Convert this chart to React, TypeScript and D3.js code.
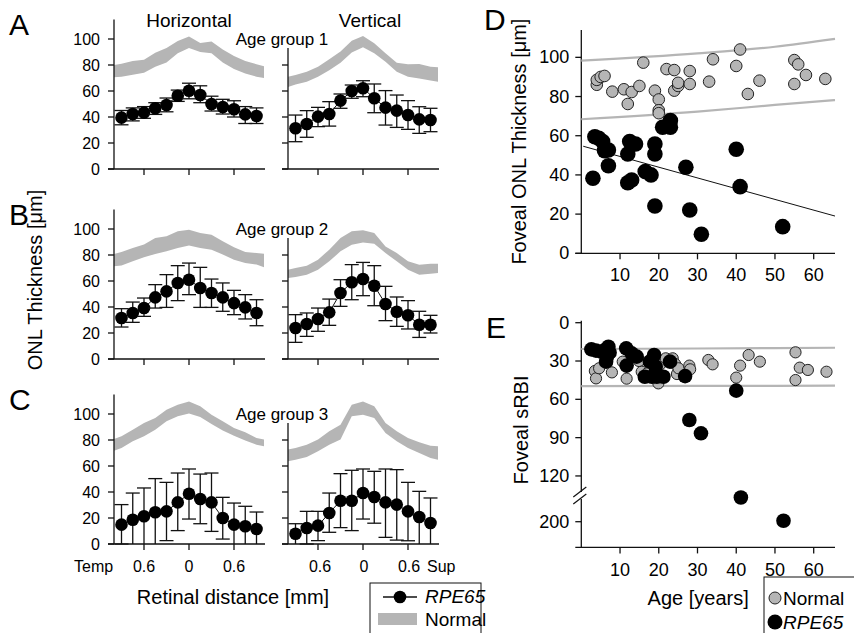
import React from "react";
import * as d3 from "d3";

const FONT = "'Liberation Sans', Arial, Helvetica, sans-serif";
const BAND = "#b5b5b5";

// retinal positions (mm) of the RPE65 means, and where the normal band is sampled
const positions = [-0.9, -0.75, -0.6, -0.45, -0.3, -0.15, 0, 0.15, 0.3, 0.45, 0.6, 0.75, 0.9];
const bandPositions = [-1, -0.9, -0.75, -0.6, -0.45, -0.3, -0.15, 0, 0.15, 0.3, 0.45, 0.6, 0.75, 0.9, 1];
const xTicks = [-0.6, 0, 0.6];
const yTicks = [0, 20, 40, 60, 80, 100];

// age group 1
const hor1Mean = [39.5, 42.3, 43.4, 46.7, 49.2, 56.4, 60.2, 56.9, 50, 47.7, 46, 42, 40.8];
const hor1Hi = [45, 47, 48, 51, 54.6, 60.7, 66, 64, 56, 53.6, 52.5, 48, 47];
const hor1Lo = [34, 37, 39, 42, 44, 52, 54, 51, 44.6, 42.3, 40, 35, 35];
const hor1BandHi = [80, 81, 83, 84, 89.5, 93, 98.5, 102, 97, 98, 92, 87, 83, 80.6, 79];
const hor1BandLo = [70.5, 71, 72.5, 74, 78.6, 82, 89, 93, 90, 89, 82, 77, 73.5, 71, 70];
const ver1Mean = [31.3, 34.6, 40.3, 42.3, 52.6, 60, 62.1, 54.4, 47.2, 44.9, 41.5, 38.2, 37.7];
const ver1Hi = [41.5, 44.9, 47.4, 51.8, 57.7, 64.6, 67.9, 65.4, 60.3, 56.9, 52.6, 47.9, 46.7];
const ver1Lo = [21, 24.4, 32.6, 33, 46.7, 54.4, 55.6, 43.3, 33.8, 32, 30.5, 27.4, 28.7];
const ver1BandHi = [71, 72.3, 74.9, 78.7, 84.4, 90.3, 98.7, 102.3, 96.7, 89, 81.8, 80.5, 80.8, 78.7, 78.2];
const ver1BandLo = [63, 65, 67.2, 71, 76, 81.8, 89.7, 93.6, 89, 82.5, 74.9, 71, 69.7, 68, 67.2];

// age group 2
const hor2Mean = [31.5, 35.4, 39.2, 47.4, 52, 58.5, 61, 54.6, 50.8, 47.4, 43, 39.7, 35.4];
const hor2Hi = [38.7, 43.8, 46.9, 57.2, 64.9, 71.8, 73.8, 70.5, 61.5, 58.5, 52.8, 49.5, 45.6];
const hor2Lo = [24.6, 28.2, 32.8, 39.2, 39.7, 44.9, 49.5, 39.7, 39.7, 36.7, 34.1, 30.8, 25.6];
const hor2BandHi = [80.8, 82.3, 85.4, 88, 93, 94.4, 98.2, 99.5, 96.9, 95.6, 90.5, 85.9, 82.3, 81.5, 81];
const hor2BandLo = [71.3, 72, 75.1, 78.2, 80.8, 82.8, 85.4, 87.4, 85.4, 84.1, 80.3, 76.4, 73.8, 72.6, 70.5];
const ver2Mean = [23.8, 26.9, 30.8, 35.9, 50.8, 59, 61.5, 56.4, 42.3, 36.4, 33.6, 26.4, 26.4];
const ver2Hi = [34.1, 35.4, 39.2, 46.1, 61, 72.6, 74.3, 71.8, 55.9, 47.7, 44.9, 36.7, 33.6];
const ver2Lo = [12.8, 17.4, 21.3, 25.9, 40.5, 45.6, 48.7, 41, 29.5, 25.1, 23.1, 16.6, 20];
const ver2BandHi = [68.7, 70, 71.8, 76.4, 84.1, 93, 98.2, 99, 96.9, 86.6, 81.5, 75.1, 72.5, 73.3, 73.3];
const ver2BandLo = [62.3, 63, 64.9, 68.7, 75.1, 82.8, 87.9, 89.7, 88.7, 81.5, 75.1, 68.7, 64.9, 65.6, 66.1];

// age group 3 (negative lower = whisker runs past 0)
const hor3Mean = [14.9, 18.7, 21.3, 24.4, 25.1, 32, 38.7, 34.6, 32, 20, 14.9, 13.6, 11.5];
const hor3Hi = [30.3, 39.2, 43.1, 50.3, 47.4, 54.6, 57.7, 53.8, 54.6, 35.9, 31.5, 29, 24.6];
const hor3Lo = [0, -5, -5, -5, 2.6, 10.3, 19.2, 15.6, 9.7, 3.8, -5, -5, -5];
const hor3BandHi = [80.8, 82.8, 87.9, 93, 96.9, 103.3, 107.2, 109.7, 105.9, 99.5, 94.4, 89.2, 85.9, 81.5, 80.3];
const hor3BandLo = [71.8, 73.8, 79, 82.8, 87.9, 94.4, 98.2, 100.3, 97.7, 92.3, 87.4, 83.3, 79.7, 76.4, 75.1];
const ver3Mean = [7.9, 12.3, 14.1, 23.8, 33.3, 33.3, 39.2, 36.2, 32, 30.3, 25.1, 20.8, 16.2];
const ver3Hi = [15.6, 25.1, 25.1, 39.2, 54.1, 56.7, 57.7, 55.9, 57.7, 57.2, 47.4, 40.5, 35.4];
const ver3Lo = [-5, 0, 2.6, 9, 12.6, 10.3, 19.2, 16, 5.1, 3, 2.5, -5, -5];
const ver3BandHi = [72.6, 73.8, 76.4, 80.3, 86.7, 91.8, 107.2, 109.7, 105.9, 93, 86.7, 81.5, 78.2, 75.6, 75.1];
const ver3BandLo = [63.6, 64.9, 66.9, 71.3, 76.4, 80.3, 98.2, 99.5, 96.9, 85.4, 79, 73.8, 70, 66.2, 64.9];

// panel D: foveal ONL thickness vs age
const normalAgeD = [4, 4, 5, 6, 8, 11, 12, 13, 15, 16, 19, 20, 20, 20, 22, 24, 24, 25, 25, 28, 28, 33, 34, 40, 41, 43, 46, 55, 56, 55, 58, 63];
const normalOnlD = [86, 88.5, 90, 90.5, 82.5, 83.7, 76.2, 82.3, 85.4, 97.3, 83, 78.5, 73, 71.5, 94, 93.5, 83, 85.4, 87, 93, 86.4, 87.6, 99, 95.6, 104, 81.3, 88.1, 98.6, 96.4, 86.4, 91, 89];
const rpeAgeD = [3, 3.5, 4.5, 5.5, 6, 7, 7, 12, 12, 13, 12.5, 14, 16.5, 18, 19, 19, 19, 21, 23, 23, 27, 28, 31, 40, 41, 52];
const rpeOnlD = [38.3, 59.5, 58.7, 57, 52.4, 52.7, 44.7, 50.7, 36, 37.4, 57, 55.8, 41.7, 40, 55.8, 50.7, 24.1, 64.3, 67.7, 64.3, 43.9, 22.1, 9.7, 53.1, 34, 13.6];
const limitAges = [0, 30, 50, 65.5];
const onlUpper = [98.3, 102, 105.4, 109.4];
const onlLower = [68.4, 72.3, 75.7, 78.2];
const fitAges = [0.5, 65.5];
const rpeFit = [54.9, -0.548]; // intercept, slope

// panel E: foveal sRBI vs age
const normalAgeE = [3.5, 3.8, 4.6, 7.9, 10.7, 11.7, 14.9, 15.6, 17, 18.8, 19.9, 20.4, 21.8, 23.6, 24.2, 24.7, 25.1, 27.9, 28.1, 32.8, 33.9, 40, 41, 43.2, 46.1, 55.3, 55.3, 56.4, 58.5, 63.3];
const normalSrbiE = [37.8, 43.6, 35.7, 38.9, 30.5, 43.8, 30, 38.4, 39.7, 42.8, 47.5, 32.6, 27.9, 27.9, 32.3, 40.2, 35.7, 33.6, 36.5, 29.2, 32.6, 43, 33.6, 25.3, 30.5, 23.2, 44.9, 35.2, 37, 38.4];
const rpeAgeE = [2.6, 3.8, 5.1, 6.1, 7, 6.4, 6.6, 7.3, 11.6, 11.7, 13, 14.3, 16.4, 17.7, 18.2, 18.8, 19.2, 19.5, 21.2, 22.9, 26.8, 27.9, 30.9, 40, 41.2, 52.2];
const rpeSrbiE = [20.9, 21.9, 22.7, 21.4, 18.8, 30.5, 26.6, 23.5, 20.1, 33.6, 24, 26.6, 42.3, 30.5, 42.3, 25.3, 34.4, 42.3, 42.3, 30.5, 41.8, 76.2, 86.6, 53.2, 151, 198];
const srbiUpper = [20.6, 20.2, 19.9, 19.6];
const srbiLower = [49.6, 49.5, 49.4, 49.3];
const srbiTicks = [0, 30, 60, 90, 120, 200];
const ageTicks = [10, 20, 30, 40, 50, 60];

function LinePanel(props: any) {
  const { left, zeroY, axisTop, mean, hi, lo, bandHi, bandLo, labels } = props;
  const x = d3.scaleLinear().domain([-1, 1]).range([left, left + 150]);
  const y = d3.scaleLinear().domain([0, 115]).range([zeroY, zeroY - 149.5]);
  const area = d3
    .area<number>()
    .x((_, i) => x(bandPositions[i]))
    .y0((_, i) => y(bandLo[i]))
    .y1((d) => y(d));
  const line = d3
    .line<number>()
    .x((_, i) => x(positions[i]))
    .y((d) => y(d));
  const ax = x(-1);
  return (
    <g>
      <path d={area(bandHi) || ""} fill={BAND} />
      <line x1={ax} x2={ax} y1={y(0)} y2={y(axisTop)} stroke="#111" strokeWidth={1.3} />
      <line x1={ax - 6} x2={x(1) + 1} y1={y(0)} y2={y(0)} stroke="#111" strokeWidth={1.3} />
      {yTicks
        .filter((t) => t <= axisTop)
        .map((t) => (
          <g key={t}>
            <line x1={ax - 6} x2={ax} y1={y(t)} y2={y(t)} stroke="#111" strokeWidth={1.3} />
            {labels && (
              <text x={ax - 14} y={y(t) + 5.5} textAnchor="end" fontSize={16}>
                {t}
              </text>
            )}
          </g>
        ))}
      {xTicks.map((t) => (
        <line key={t} x1={x(t)} x2={x(t)} y1={y(0)} y2={y(0) + 6} stroke="#111" strokeWidth={1.3} />
      ))}
      <path d={line(mean) || ""} fill="none" stroke="#111" strokeWidth={1} />
      {mean.map((m: number, i: number) => {
        const cx = x(positions[i]);
        const bottom = Math.max(lo[i], 0);
        return (
          <g key={i} stroke="#111" strokeWidth={1.3}>
            <line x1={cx} x2={cx} y1={y(hi[i])} y2={y(bottom)} />
            <line x1={cx - 7} x2={cx + 7} y1={y(hi[i])} y2={y(hi[i])} />
            {lo[i] >= 0 && <line x1={cx - 7} x2={cx + 7} y1={y(lo[i])} y2={y(lo[i])} />}
            <circle cx={cx} cy={y(m)} r={6.3} fill="#000" stroke="none" />
          </g>
        );
      })}
    </g>
  );
}

const rows = [
  { zeroY: 169, group: "Age group 1", letter: "A", hor: [hor1Mean, hor1Hi, hor1Lo, hor1BandHi, hor1BandLo], ver: [ver1Mean, ver1Hi, ver1Lo, ver1BandHi, ver1BandLo] },
  { zeroY: 359, group: "Age group 2", letter: "B", hor: [hor2Mean, hor2Hi, hor2Lo, hor2BandHi, hor2BandLo], ver: [ver2Mean, ver2Hi, ver2Lo, ver2BandHi, ver2BandLo] },
  { zeroY: 544, group: "Age group 3", letter: "C", hor: [hor3Mean, hor3Hi, hor3Lo, hor3BandHi, hor3BandLo], ver: [ver3Mean, ver3Hi, ver3Lo, ver3BandHi, ver3BandLo] },
];

function PanelD() {
  const x = d3.scaleLinear().domain([0, 65.5]).range([581.3, 835]);
  const y = d3.scaleLinear().domain([0, 114]).range([253.3, 29.9]);
  const limit = d3
    .line<number>()
    .x((_, i) => x(limitAges[i]))
    .y((d) => y(d))
    .curve(d3.curveMonotoneX);
  return (
    <g>
      <line x1={x(0)} x2={x(0)} y1={y(0)} y2={y(114)} stroke="#111" strokeWidth={1.3} />
      <line x1={x(0) - 6} x2={x(65.5)} y1={y(0)} y2={y(0)} stroke="#111" strokeWidth={1.3} />
      {yTicks.map((t) => (
        <g key={t}>
          <line x1={x(0) - 6} x2={x(0)} y1={y(t)} y2={y(t)} stroke="#111" strokeWidth={1.3} />
          <text x={x(0) - 12} y={y(t) + 6} textAnchor="end" fontSize={18}>
            {t}
          </text>
        </g>
      ))}
      {ageTicks.map((t) => (
        <g key={t}>
          <line x1={x(t)} x2={x(t)} y1={y(0)} y2={y(0) + 6} stroke="#111" strokeWidth={1.3} />
          <text x={x(t)} y={y(0) + 28} textAnchor="middle" fontSize={18}>
            {t}
          </text>
        </g>
      ))}
      <path d={limit(onlUpper) || ""} fill="none" stroke={BAND} strokeWidth={2.2} />
      <path d={limit(onlLower) || ""} fill="none" stroke={BAND} strokeWidth={2.2} />
      <line
        x1={x(fitAges[0])}
        x2={x(fitAges[1])}
        y1={y(rpeFit[0] + rpeFit[1] * fitAges[0])}
        y2={y(rpeFit[0] + rpeFit[1] * fitAges[1])}
        stroke="#111"
        strokeWidth={1}
      />
      {normalAgeD.map((a, i) => (
        <circle key={"n" + i} cx={x(a)} cy={y(normalOnlD[i])} r={5.8} fill={BAND} stroke="#222" strokeWidth={1} />
      ))}
      {rpeAgeD.map((a, i) => (
        <circle key={"r" + i} cx={x(a)} cy={y(rpeOnlD[i])} r={7.8} fill="#000" />
      ))}
      <text transform={`translate(526,${y(57)}) rotate(-90)`} textAnchor="middle" fontSize={20}>
        Foveal ONL Thickness [μm]
      </text>
    </g>
  );
}

function PanelE() {
  const x = d3.scaleLinear().domain([0, 65.5]).range([581.3, 835]);
  // broken axis: linear to 135, then a compressed segment above the break
  const y = d3.scaleLinear().domain([0, 135, 150, 252]).range([322.7, 495.1, 497, 547.4]);
  const limit = d3
    .line<number>()
    .x((_, i) => x(limitAges[i]))
    .y((d) => y(d));
  const ax = x(0);
  const by = y(142);
  return (
    <g>
      <line x1={ax} x2={ax} y1={y(0) - 2} y2={y(252)} stroke="#111" strokeWidth={1.3} />
      <rect x={ax - 3} y={by - 4} width={6} height={7} fill="#fff" />
      <line x1={ax - 8} x2={ax + 5} y1={by + 1} y2={by - 9} stroke="#111" strokeWidth={1.2} />
      <line x1={ax - 8} x2={ax + 5} y1={by + 8} y2={by - 2} stroke="#111" strokeWidth={1.2} />
      <line x1={ax - 6} x2={x(65.5)} y1={y(252)} y2={y(252)} stroke="#111" strokeWidth={1.3} />
      {srbiTicks.map((t) => (
        <g key={t}>
          <line x1={ax - 6} x2={ax} y1={y(t)} y2={y(t)} stroke="#111" strokeWidth={1.3} />
          <text x={ax - 12} y={y(t) + 6} textAnchor="end" fontSize={18}>
            {t}
          </text>
        </g>
      ))}
      {ageTicks.map((t) => (
        <g key={t}>
          <line x1={x(t)} x2={x(t)} y1={y(252)} y2={y(252) + 6} stroke="#111" strokeWidth={1.3} />
          <text x={x(t)} y={y(252) + 29} textAnchor="middle" fontSize={18}>
            {t}
          </text>
        </g>
      ))}
      <path d={limit(srbiUpper) || ""} fill="none" stroke={BAND} strokeWidth={2.2} />
      <path d={limit(srbiLower) || ""} fill="none" stroke={BAND} strokeWidth={2.2} />
      {normalAgeE.map((a, i) => (
        <circle key={"n" + i} cx={x(a)} cy={y(normalSrbiE[i])} r={5.6} fill={BAND} stroke="#222" strokeWidth={1} />
      ))}
      {rpeAgeE.map((a, i) => (
        <circle key={"r" + i} cx={x(a)} cy={y(rpeSrbiE[i])} r={7.3} fill="#000" />
      ))}
      <text transform={`translate(528,${y(84)}) rotate(-90)`} textAnchor="middle" fontSize={20}>
        Foveal sRBI
      </text>
      <text x={(x(0) + x(65.5)) / 2 - 10} y={605} textAnchor="middle" fontSize={20}>
        Age [years]
      </text>
      <rect x={764} y={577} width={100} height={70} fill="#fff" stroke="#111" strokeWidth={1} />
      <circle cx={775} cy={598} r={6} fill={BAND} stroke="#222" strokeWidth={1} />
      <text x={783} y={605} fontSize={19}>
        Normal
      </text>
      <circle cx={775} cy={622} r={7.5} fill="#000" />
      <text x={783} y={629} fontSize={19} fontStyle="italic">
        RPE65
      </text>
    </g>
  );
}

export default function App() {
  return (
    <svg
      width={854}
      height={633}
      style={{ position: "absolute", left: 0, top: 0, background: "#fff" }}
      fontFamily={FONT}
    >
      <rect width={854} height={633} fill="#fff" />
      <text x={189} y={27} textAnchor="middle" fontSize={19}>
        Horizontal
      </text>
      <text x={370} y={27} textAnchor="middle" fontSize={19}>
        Vertical
      </text>
      {rows.map((r) => (
        <g key={r.letter}>
          <text x={9} y={r.zeroY - 134} fontSize={30}>
            {r.letter}
          </text>
          <LinePanel
            left={114}
            zeroY={r.zeroY}
            axisTop={115}
            mean={r.hor[0]}
            hi={r.hor[1]}
            lo={r.hor[2]}
            bandHi={r.hor[3]}
            bandLo={r.hor[4]}
            labels
          />
          <LinePanel
            left={288}
            zeroY={r.zeroY}
            axisTop={93}
            mean={r.ver[0]}
            hi={r.ver[1]}
            lo={r.ver[2]}
            bandHi={r.ver[3]}
            bandLo={r.ver[4]}
          />
          <text x={282} y={r.zeroY - 124} textAnchor="middle" fontSize={17}>
            {r.group}
          </text>
        </g>
      ))}
      <text transform="translate(42,280) rotate(-90)" textAnchor="middle" fontSize={20}>
        ONL Thickness [μm]
      </text>
      <text x={74} y={572} fontSize={16}>
        Temp
      </text>
      {[
        [144, "0.6"],
        [189, "0"],
        [234, "0.6"],
        [320, "0.6"],
        [364, "0"],
        [409, "0.6"],
      ].map(([px, t], i) => (
        <text key={i} x={px as number} y={572} textAnchor="middle" fontSize={16}>
          {t}
        </text>
      ))}
      <text x={427} y={572} fontSize={16}>
        Sup
      </text>
      <text x={233} y={604} textAnchor="middle" fontSize={20}>
        Retinal distance [mm]
      </text>
      <rect x={370} y={583} width={111} height={70} fill="#fff" stroke="#111" strokeWidth={1} />
      <line x1={383} x2={417} y1={597} y2={597} stroke="#111" strokeWidth={1.3} />
      <circle cx={400} cy={597} r={6.3} fill="#000" />
      <text x={425} y={603} fontSize={19} fontStyle="italic">
        RPE65
      </text>
      <rect x={378} y={613} width={39} height={12} fill={BAND} />
      <text x={425} y={626} fontSize={19}>
        Normal
      </text>
      <text x={484} y={30} fontSize={30}>
        D
      </text>
      <text x={486} y={338} fontSize={30}>
        E
      </text>
      <PanelD />
      <PanelE />
    </svg>
  );
}
